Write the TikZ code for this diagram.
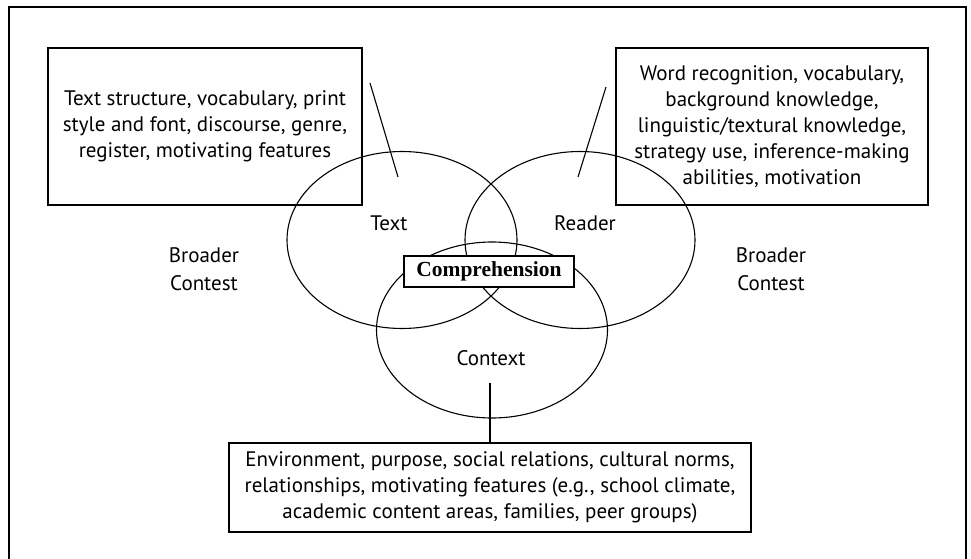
\documentclass[tikz,border=0pt]{standalone}
\usepackage{fontspec}
\setmainfont{PT Sans}
\newfontfamily\headfont{Liberation Serif}
\usetikzlibrary{shapes.geometric}

\begin{document}
\begin{tikzpicture}[x=1pt, y=-1pt, font=\fontsize{21}{26}\selectfont]
  \tikzset{
    circ/.style={ellipse, draw, line width=1.1pt, minimum width=230pt, minimum height=177pt, inner sep=0pt},
    infobox/.style={draw, line width=1.1pt, align=center, inner sep=0pt},
    pointer/.style={line width=1.1pt},
    side/.style={align=center, inner sep=0pt, font=\fontsize{21}{28}\selectfont}
  }
  \useasboundingbox (0,0) rectangle (971,559);
  % outer frame, open at the bottom
  \draw[line width=1.8pt] (9,559) -- (9,7) -- (966,7) -- (966,559);

  % the three overlapping sets
  \node[circ] (txt) at (402,240) {};
  \node[circ] (rdr) at (580,240) {};
  \node[circ, minimum width=231pt, minimum height=176pt] (ctx) at (492,330) {};
  \node (txtlabel) at (389,223) {Text};
  \node (rdrlabel) at (585,223) {Reader};
  \node (ctxlabel) at (491,358) {Context};

  \node[infobox, fill=white, minimum width=170pt, minimum height=31pt, font=\headfont\bfseries\fontsize{21.5}{24}\selectfont] (comp) at (489,271.5) {Comprehension};

  \node[side] (leftctx) at (204,269) {Broader\\Contest};
  \node[side] (rightctx) at (771,269) {Broader\\Contest};

  % boxes of features
  \node[infobox, minimum width=314pt, minimum height=157pt] (txtbox) at (205,126.5)
    {Text structure, vocabulary, print\\style and font, discourse, genre,\\register, motivating features};
  \node[infobox, minimum width=312pt, minimum height=157pt] (rdrbox) at (772,126.5)
    {Word recognition, vocabulary,\\background knowledge,\\linguistic/textural knowledge,\\strategy use, inference-making\\abilities, motivation};
  \node[infobox, minimum width=522pt, minimum height=89pt] (ctxbox) at (490,487.5)
    {Environment, purpose, social relations, cultural norms,\\relationships, motivating features (e.g., school climate,\\academic content areas, families, peer groups)};

  % pointers
  \coordinate (txtend) at (370,83);
  \coordinate (txttip) at (398,177);
  \coordinate (rdrend) at (606,87);
  \coordinate (rdrtip) at (578,177);
  \coordinate (ctxtip) at (490,383);
  \draw[pointer] (txtend) -- (txttip);
  \draw[pointer] (rdrend) -- (rdrtip);
  \draw[pointer] (ctxtip) -- (ctxbox.north);
\end{tikzpicture}
\end{document}
